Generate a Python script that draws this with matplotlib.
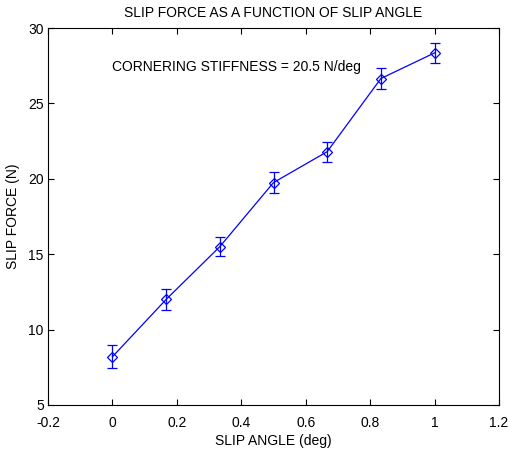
import numpy as np
import matplotlib
matplotlib.use('Agg')
import matplotlib.pyplot as plt

plt.rcParams['font.family'] = ['Liberation Sans', 'DejaVu Sans']

slip_angle = [0.0, 1/6, 1/3, 0.5, 2/3, 5/6, 1.0]
slip_force = [8.2, 12.0, 15.5, 19.75, 21.8, 26.65, 28.35]
force_err = [0.75, 0.72, 0.65, 0.7, 0.67, 0.72, 0.66]

x_ticks = [-0.2, 0, 0.2, 0.4, 0.6, 0.8, 1, 1.2]
x_tick_labels = ['-0.2', '0', '0.2', '0.4', '0.6', '0.8', '1', '1.2']
y_ticks = [5, 10, 15, 20, 25, 30]

fig = plt.figure(figsize=(5.08, 4.5), dpi=100)
axe = fig.add_axes([48/508, 1 - 405/450, 451/508, 377/450])

blue = '#0000ff'
axe.errorbar(slip_angle, slip_force, yerr=force_err, color=blue, ecolor=blue, linewidth=0.9,
             marker='D', markersize=5.5, markerfacecolor='none', markeredgecolor=blue,
             markeredgewidth=0.9, capsize=3.5, elinewidth=0.9)

axe.set_xlim(-0.2, 1.2)
axe.set_ylim(5, 30)
axe.set_xticks(x_ticks)
axe.set_xticklabels(x_tick_labels)
axe.set_yticks(y_ticks)
axe.tick_params(direction='in', top=True, right=True, length=4, labelsize=10)
axe.tick_params(axis='x', pad=8)
axe.tick_params(axis='y', pad=3)
for s in axe.spines.values():
    s.set_linewidth(0.8)

axe.set_title('SLIP FORCE AS A FUNCTION OF SLIP ANGLE', fontsize=10, pad=8)
axe.set_xlabel('SLIP ANGLE (deg)', fontsize=10, labelpad=3)
axe.set_ylabel('SLIP FORCE (N)', fontsize=10, labelpad=6)
axe.text(0.0, 27.4, 'CORNERING STIFFNESS = 20.5 N/deg', fontsize=10, va='center', ha='left')

plt.savefig('out.png', dpi=100)
plt.close()
